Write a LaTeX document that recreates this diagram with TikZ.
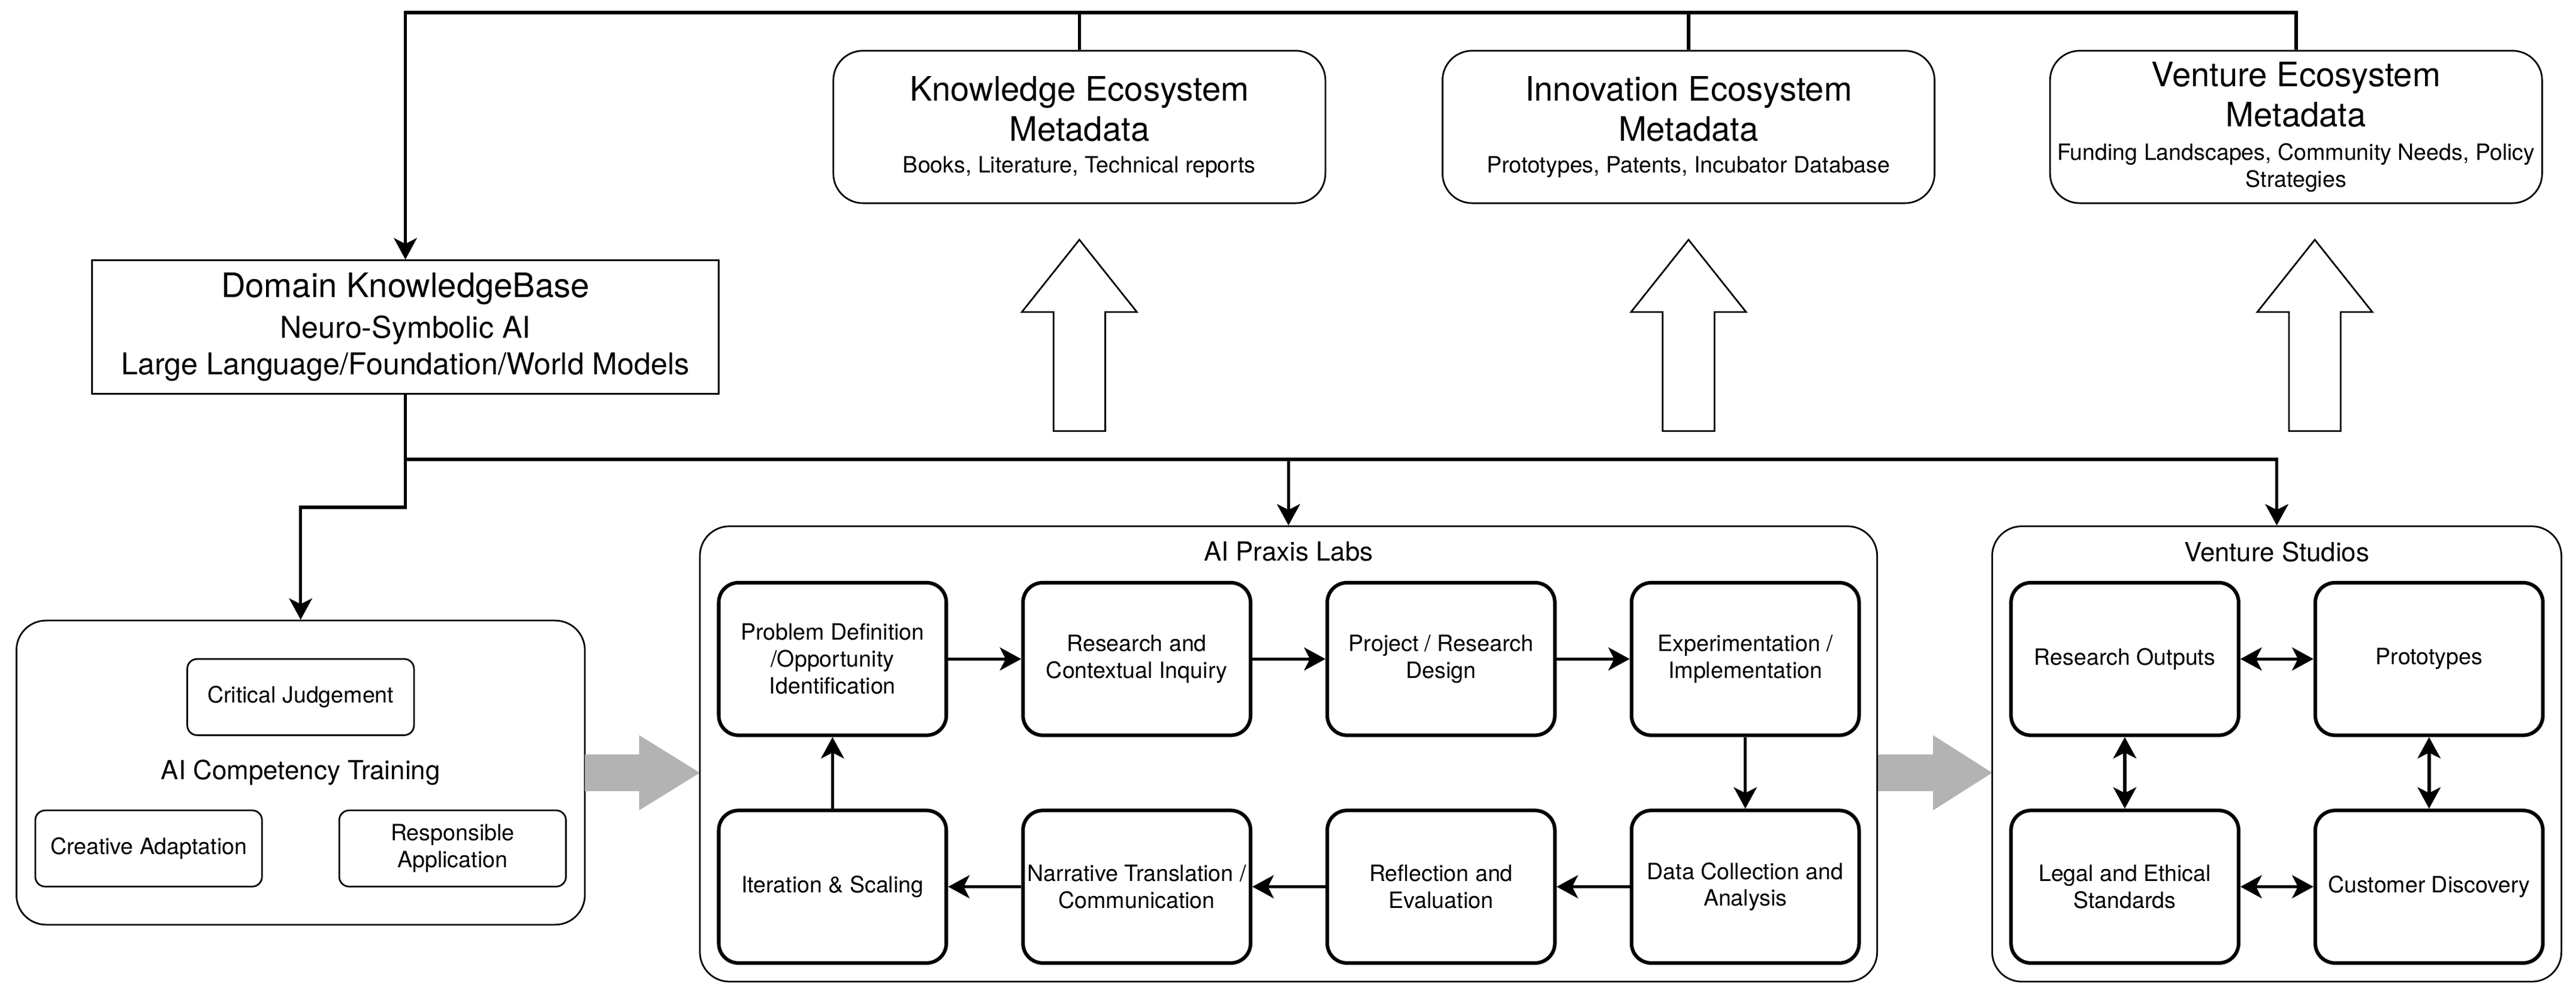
\documentclass[tikz,border=0pt]{standalone}
\usepackage{fontspec}
\setmainfont{TeX Gyre Heros}
\usetikzlibrary{arrows.meta,positioning}
\definecolor{arrowgray}{HTML}{B3B3B3}

\begin{document}
\begin{tikzpicture}[x=1pt,y=-1pt,>={Stealth[length=13pt,width=14pt,inset=3.5pt]},
      line width=2pt,node distance=43.6pt and 44.5pt,
      metabox/.style={draw,line width=1pt,rounded corners=18pt,minimum width=299.5pt,
        minimum height=92.8pt,align=center,inner sep=1pt,font=\fontsize{20.5}{24.6}\selectfont},
      kbbox/.style={draw,line width=1pt,minimum width=381.5pt,minimum height=81.2pt,
        align=center,inner sep=1pt,font=\fontsize{20.5}{24.6}\selectfont},
      groupbox/.style={draw,line width=1pt,rounded corners=18pt,inner sep=0pt},
      smallbox/.style={draw,line width=1pt,rounded corners=6pt,minimum width=138pt,
        minimum height=46.4pt,align=center,inner sep=1pt,font=\fontsize{13.7}{16.4}\selectfont},
      stepbox/.style={draw,line width=2.2pt,rounded corners=12pt,minimum width=138.5pt,
        minimum height=92.9pt,align=center,inner sep=1pt,font=\fontsize{13.7}{16.4}\selectfont},
      grouptitle/.style={inner sep=1pt,font=\fontsize{16}{19.2}\selectfont},
      uparrow/.style={draw,line width=1pt,fill=white},
      grayarrow/.style={fill=arrowgray}]
    \useasboundingbox (0,0) rectangle (1568,606.2);

    % ecosystem metadata
    \node[metabox] (km) at (657,77.3) {Knowledge Ecosystem\\Metadata\\[-5.3pt]%
      {\fontsize{13.7}{16.4}\selectfont Books, Literature, Technical reports}};
    \node[metabox] (im) at (1027.8,77.3) {Innovation Ecosystem\\Metadata\\[-5.3pt]%
      {\fontsize{13.7}{16.4}\selectfont Prototypes, Patents, Incubator Database}};
    \node[metabox] (vm) at (1397.6,77.3) {Venture Ecosystem\\Metadata\\[-4.3pt]%
      {\fontsize{13.7}{16.4}\selectfont Funding Landscapes, Community Needs, Policy}\\[-8.2pt]%
      {\fontsize{13.7}{16.4}\selectfont Strategies}};
    \node[kbbox] (dkb) at (246.75,199.1) {Domain KnowledgeBase\\%
      {\fontsize{18.3}{22}\selectfont Neuro-Symbolic AI}\\[-2.4pt]%
      {\fontsize{18.3}{22}\selectfont Large Language/Foundation/World Models}};

    \draw[uparrow] (657,146) -- ++(35,44) -- ++(-19.25,0) -- ++(0,72.5) -- ++(-31.5,0)
      -- ++(0,-72.5) -- ++(-19.25,0) -- cycle;
    \draw[uparrow] (1027.8,146) -- ++(35,44) -- ++(-19.25,0) -- ++(0,72.5) -- ++(-31.5,0)
      -- ++(0,-72.5) -- ++(-19.25,0) -- cycle;
    \draw[uparrow] (1409,146) -- ++(35,44) -- ++(-19.25,0) -- ++(0,72.5) -- ++(-31.5,0)
      -- ++(0,-72.5) -- ++(-19.25,0) -- cycle;

    % competency training
    \node[groupbox,minimum width=346pt,minimum height=185.2pt,
      font=\fontsize{16}{19.2}\selectfont] (act) at (183,470.5) {AI Competency Training};
    \node[smallbox] (cj) at (183,424.5) {Critical Judgement};
    \node[smallbox] (ca) at (90.5,516.7) {Creative Adaptation};
    \node[smallbox] (ra) at (275.5,516.7) {Responsible\\Application};

    \fill[grayarrow] (356,459.4) -- ++(33,0) -- ++(0,-11.7) -- ++(37,22.9) -- ++(-37,22.9)
      -- ++(0,-11.7) -- ++(-33,0) -- cycle;
    \fill[grayarrow] (1142.6,459.4) -- ++(34,0) -- ++(0,-11.7) -- ++(36,22.9) -- ++(-36,22.9)
      -- ++(0,-11.7) -- ++(-34,0) -- cycle;

    % praxis labs
    \node[groupbox,minimum width=716.6pt,minimum height=277.3pt] (apl) at (784.3,459.15) {};
    \node[grouptitle] (aplt) at (784.3,336) {AI Praxis Labs};
    \node[stepbox] (p1) at (506.75,401.3) {Problem Definition\\/Opportunity\\Identification};
    \node[stepbox] (p2) [right=of p1] {Research and\\Contextual Inquiry};
    \node[stepbox] (p3) [right=of p2] {Project / Research\\Design};
    \node[stepbox] (p4) [right=of p3] {Experimentation /\\Implementation};
    \node[stepbox] (p5) [below=of p4] {Data Collection and\\Analysis};
    \node[stepbox] (p6) [left=of p5] {Reflection and\\Evaluation};
    \node[stepbox] (p7) [left=of p6] {Narrative Translation /\\Communication};
    \node[stepbox] (p8) [left=of p7] {Iteration \& Scaling};

    % venture studios
    \node[groupbox,minimum width=346.5pt,minimum height=277.3pt] (vst) at (1385.85,459.15) {};
    \node[grouptitle] (vstt) at (1385.85,336) {Venture Studios};
    \node[stepbox] (vs1) at (1293.35,401.3) {Research Outputs};
    \node[stepbox] (vs2) [right=of vs1] {Prototypes};
    \node[stepbox] (vs3) [below=of vs1] {Legal and Ethical\\Standards};
    \node[stepbox] (vs4) [below=of vs2] {Customer Discovery};

    % connectors
    \coordinate (rail) at (246.75,7.7);
    \coordinate (bus) at (246.75,279.7);
    \coordinate (fork) at (246.75,308.9);
    \draw[->] (vm.north) |- (rail) -- (dkb.north);
    \draw (km.north) -- (km.north |- rail);
    \draw (im.north) -- (im.north |- rail);
    \draw[->] (dkb.south) -- (fork) -| (act.north);
    \draw[->] (bus) -| (vst.north);
    \draw[->] (apl.north |- bus) -- (apl.north);
    \path[->] (p1) edge (p2) (p2) edge (p3) (p3) edge (p4) (p4) edge (p5)
      (p5) edge (p6) (p6) edge (p7) (p7) edge (p8) (p8) edge (p1);
    \path[<->] (vs1) edge (vs2) (vs1) edge (vs3) (vs2) edge (vs4) (vs3) edge (vs4);
  \end{tikzpicture}
\end{document}
